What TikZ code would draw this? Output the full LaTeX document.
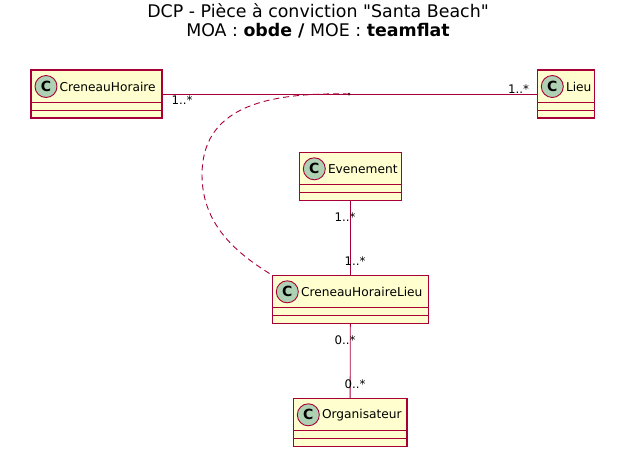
\documentclass[tikz,border=0pt]{standalone}
\usepackage{fontspec}
\setmainfont{DejaVu Sans}
\definecolor{umlred}{HTML}{A80036}
\definecolor{umlfill}{HTML}{FEFECE}
\definecolor{umlspot}{HTML}{ADD1B2}

\begin{document}
\begin{tikzpicture}[x=1pt, y=-1pt]
    \tikzset{
        classbox/.style={
            draw=umlred, fill=umlfill, line width=1.2pt,
            minimum height=48pt, inner sep=0pt, outer sep=0pt,
            anchor=north west,
        },
        spot/.style={
            circle, draw=umlred, fill=umlspot, line width=0.9pt,
            minimum size=22pt, inner sep=0pt,
            font=\bfseries\fontsize{14}{14}\selectfont,
        },
        classname/.style={
            anchor=west, inner sep=0pt,
            font=\fontsize{12.2}{14}\selectfont,
        },
        mult/.style={
            inner sep=0pt, font=\fontsize{11.8}{13}\selectfont,
        },
        assoc/.style={draw=umlred, line width=0.9pt},
    }
    \useasboundingbox (0,0) rectangle (636,475);

    % Title
    \node[align=center, font=\fontsize{17.4}{19.5}\selectfont] (title) at (318,21)
        {DCP - Pièce à conviction \textquotedbl Santa Beach\textquotedbl\\MOA : \textbf{obde /} MOE : \textbf{teamflat}};

    % Classes
    \foreach \nm/\x/\y/\w/\txt in {
        ch/31/70/131/CreneauHoraire,
        lieu/537.3/70/57/Lieu,
        ev/299.3/152.3/102/Evenement,
        chl/272.3/275.3/156/CreneauHoraireLieu,
        org/293.3/398.3/113.7/Organisateur} {
        \node[classbox, minimum width=\w pt] (\nm) at (\x,\y) {};
        \draw[umlred, line width=1.2pt] ([yshift=-32.5pt]\nm.north west) -- ([yshift=-32.5pt]\nm.north east);
        \draw[umlred, line width=1.2pt] ([yshift=-40.5pt]\nm.north west) -- ([yshift=-40.5pt]\nm.north east);
        \node[spot] (\nm-spot) at ([xshift=15pt, yshift=-16.5pt]\nm.north west) {C};
        \node[classname] (\nm-name) at ([xshift=28.5pt, yshift=-16.5pt]\nm.north west) {\txt};
    }

    % Associations
    \coordinate (mid) at (349,94);
    \draw[assoc] (ch.east) -- (lieu.west);
    \fill[umlred!40!black] (mid) circle (1.5pt);
    \draw[assoc] (ev.south) -- (chl.north);
    \draw[assoc] (chl.south) -- (org.north);
    \draw[assoc, dash pattern=on 6pt off 4pt]
        (mid) .. controls (260,92) and (202,110) .. (202,175)
              .. controls (202,230) and (245,258) .. (chl.north west);

    % Multiplicities
    \node[mult] (m-ch) at (182,100.5) {1..*};
    \node[mult] (m-lieu) at (518.5,89.5) {1..*};
    \node[mult] (m-ev) at (345,217) {1..*};
    \node[mult] (m-chl1) at (355,261) {1..*};
    \node[mult] (m-chl2) at (345,340.5) {0..*};
    \node[mult] (m-org) at (355,384.5) {0..*};
\end{tikzpicture}
\end{document}
